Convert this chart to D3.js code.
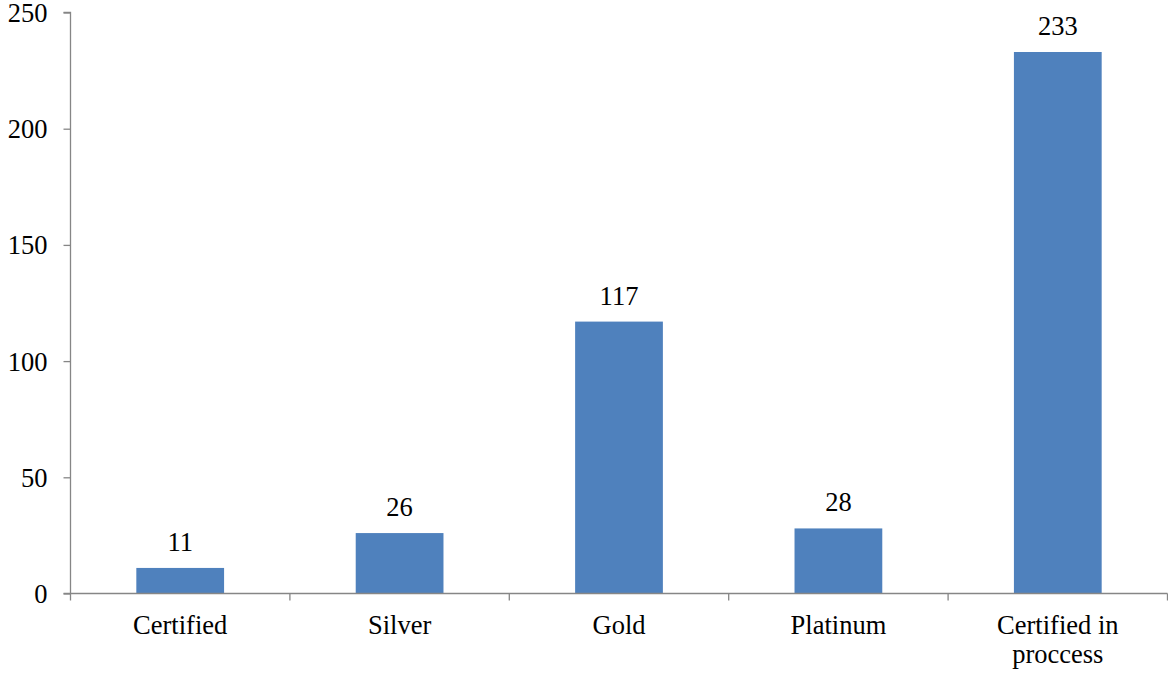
<!DOCTYPE html>
<html>
<head>
<meta charset="utf-8">
<script src="https://cdn.jsdelivr.net/npm/d3@7"></script>
<style>
  html, body { margin: 0; padding: 0; background: #fff; }
</style>
</head>
<body>
<svg id="chart" width="1168" height="677"></svg>
<script>
// Certification counts by level
const categories = ["Certified", "Silver", "Gold", "Platinum", "Certified in proccess"];
const categoryLines = [["Certified"], ["Silver"], ["Gold"], ["Platinum"], ["Certified in", "proccess"]];
const values = [11, 26, 117, 28, 233];
const yTicks = [0, 50, 100, 150, 200, 250];

const svg = d3.select("#chart");
const plotLeft = 70.5, plotRight = 1167.5, plotTop = 12.5, plotBottom = 593.5;
const axisColor = "#868686";
const barColor = "#4F81BD";
const fontSize = 26.5;
const serif = "'Liberation Serif', Tinos, 'Times New Roman', Times, serif";

const x = d3.scaleBand().domain(categories).range([plotLeft, plotRight]).padding(0);
const xBar = d3.scaleBand().domain(categories).range([plotLeft, plotRight])
  .paddingInner(0.6).paddingOuter(0.3);
const y = d3.scaleLinear().domain([0, 250]).range([plotBottom, plotTop]);

// Bars
svg.append("g").selectAll("rect")
  .data(values)
  .join("rect")
  .attr("x", (d, i) => xBar(categories[i]))
  .attr("width", xBar.bandwidth())
  .attr("y", d => y(d))
  .attr("height", d => y(0) - y(d))
  .attr("fill", barColor);

// Value labels
svg.append("g").selectAll("text")
  .data(values)
  .join("text")
  .attr("x", (d, i) => x(categories[i]) + x.bandwidth() / 2)
  .attr("y", d => y(d) - 17)
  .attr("text-anchor", "middle")
  .style("font-family", serif)
  .style("font-size", fontSize + "px")
  .attr("fill", "#000")
  .text(d => d);

// Y axis
const yAxis = svg.append("g")
  .attr("transform", `translate(${plotLeft},0)`)
  .call(d3.axisLeft(y).tickValues(yTicks).tickSize(7).tickPadding(16).tickFormat(d3.format("d")));
yAxis.select(".domain").attr("stroke", axisColor).attr("stroke-width", 1.3).attr("d", `M-7,${plotTop}H0V${plotBottom}`);
yAxis.selectAll(".tick line").attr("stroke", axisColor).attr("stroke-width", 1.3);
yAxis.selectAll(".tick text")
  .style("font-family", serif)
  .style("font-size", fontSize + "px")
  .attr("fill", "#000")
  .attr("dy", "0.34em");

// X axis line and boundary ticks
const boundaries = categories.map(c => x(c)).concat([plotRight]);
svg.append("line")
  .attr("x1", plotLeft - 7).attr("x2", plotRight)
  .attr("y1", plotBottom).attr("y2", plotBottom)
  .attr("stroke", axisColor).attr("stroke-width", 1.3);
svg.append("g").selectAll("line")
  .data(boundaries)
  .join("line")
  .attr("x1", d => d).attr("x2", d => d)
  .attr("y1", plotBottom).attr("y2", plotBottom + 7)
  .attr("stroke", axisColor).attr("stroke-width", 1.3);

// Category labels
const xl = svg.append("g").selectAll("text")
  .data(categories)
  .join("text")
  .attr("x", c => x(c) + x.bandwidth() / 2)
  .attr("y", 633.5)
  .attr("text-anchor", "middle")
  .style("font-family", serif)
  .style("font-size", fontSize + "px")
  .attr("fill", "#000");
xl.each(function(c, i) {
  d3.select(this).selectAll("tspan")
    .data(categoryLines[i])
    .join("tspan")
    .attr("x", x(c) + x.bandwidth() / 2)
    .attr("dy", (d, j) => j === 0 ? 0 : 29)
    .text(d => d);
});
</script>
</body>
</html>
